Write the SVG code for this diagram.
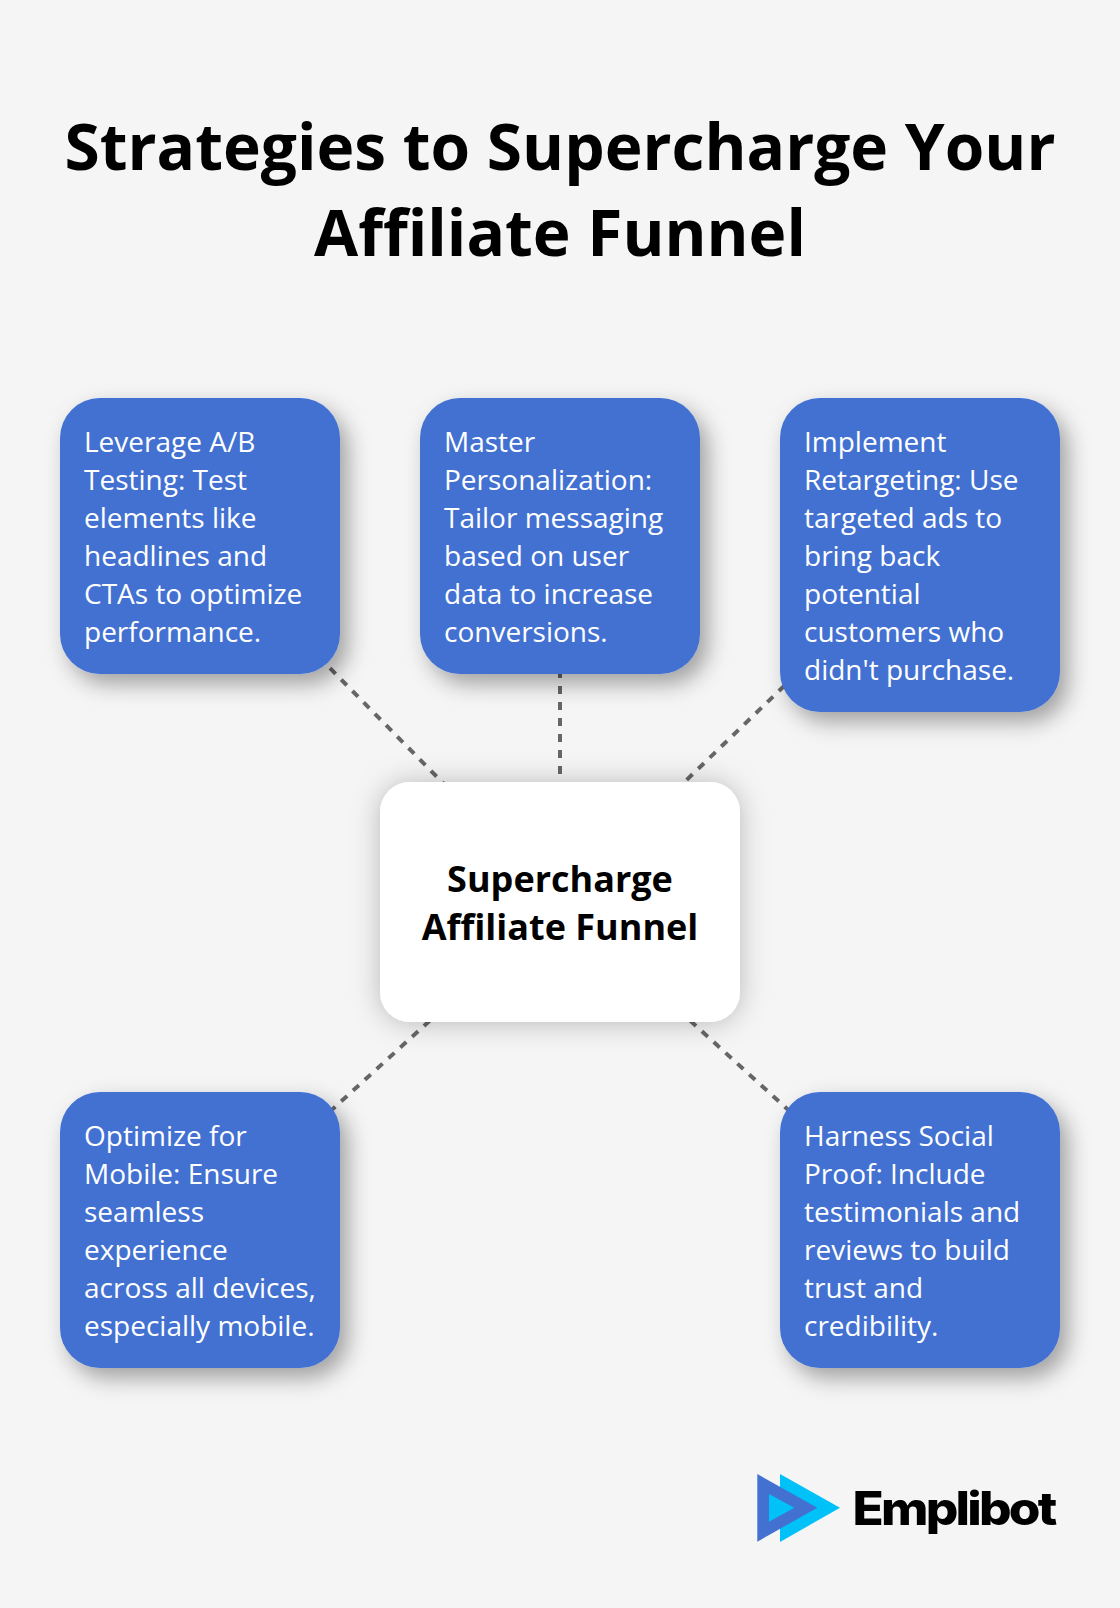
<svg xmlns="http://www.w3.org/2000/svg" width="1120" height="1608" viewBox="0 0 1120 1608">
<style>
text{font-family:"Open Sans","Noto Sans",sans-serif}
.box{fill:#4271d2}
.t{font-size:28px;fill:#fff}
.h{font-size:64px;font-weight:700;fill:#000;text-anchor:middle}
.c{font-size:36px;font-weight:700;fill:#000;text-anchor:middle}
.l{stroke:#666;stroke-width:4;stroke-dasharray:8 8;fill:none}
</style>
<defs>
<filter id="s" x="-30%" y="-30%" width="160%" height="160%"><feDropShadow dx="8" dy="10" stdDeviation="11" flood-color="#000" flood-opacity=".35"/></filter>
<filter id="s2" x="-30%" y="-30%" width="160%" height="160%"><feDropShadow dx="0" dy="1" stdDeviation="14" flood-color="#000" flood-opacity=".25"/></filter>
</defs>
<rect width="1120" height="1608" fill="#f5f5f5"/>
<g id="title"><text class="h" x="560" y="170">Strategies to Supercharge Your</text><text class="h" x="560" y="256">Affiliate Funnel</text></g>
<g id="connectors">
<line class="l" x1="560" y1="902" x2="200" y2="536"/>
<line class="l" x1="560" y1="902" x2="560" y2="536"/>
<line class="l" x1="560" y1="902" x2="920" y2="555"/>
<line class="l" x1="560" y1="902" x2="200" y2="1230"/>
<line class="l" x1="560" y1="902" x2="920" y2="1230"/>
</g>
<g id="center"><rect x="380" y="782" width="360" height="240" rx="30" fill="#fff" filter="url(#s2)"/><text class="c" x="560" y="892">Supercharge</text><text class="c" x="560" y="940">Affiliate Funnel</text></g>
<g id="n1"><rect class="box" x="60" y="398" width="280" height="276" rx="40" filter="url(#s)"/><text class="t"><tspan x="84" y="452">Leverage A/B</tspan><tspan x="84" y="490">Testing: Test</tspan><tspan x="84" y="528">elements like</tspan><tspan x="84" y="566">headlines and</tspan><tspan x="84" y="604">CTAs to optimize</tspan><tspan x="84" y="642">performance.</tspan></text></g>
<g id="n2"><rect class="box" x="420" y="398" width="280" height="276" rx="40" filter="url(#s)"/><text class="t"><tspan x="444" y="452">Master</tspan><tspan x="444" y="490">Personalization:</tspan><tspan x="444" y="528">Tailor messaging</tspan><tspan x="444" y="566">based on user</tspan><tspan x="444" y="604">data to increase</tspan><tspan x="444" y="642">conversions.</tspan></text></g>
<g id="n3"><rect class="box" x="780" y="398" width="280" height="314" rx="40" filter="url(#s)"/><text class="t"><tspan x="804" y="452">Implement</tspan><tspan x="804" y="490">Retargeting: Use</tspan><tspan x="804" y="528">targeted ads to</tspan><tspan x="804" y="566">bring back</tspan><tspan x="804" y="604">potential</tspan><tspan x="804" y="642">customers who</tspan><tspan x="804" y="680">didn't purchase.</tspan></text></g>
<g id="n4"><rect class="box" x="60" y="1092" width="280" height="276" rx="40" filter="url(#s)"/><text class="t"><tspan x="84" y="1146">Optimize for</tspan><tspan x="84" y="1184">Mobile: Ensure</tspan><tspan x="84" y="1222">seamless</tspan><tspan x="84" y="1260">experience</tspan><tspan x="84" y="1298">across all devices,</tspan><tspan x="84" y="1336">especially mobile.</tspan></text></g>
<g id="n5"><rect class="box" x="780" y="1092" width="280" height="276" rx="40" filter="url(#s)"/><text class="t"><tspan x="804" y="1146">Harness Social</tspan><tspan x="804" y="1184">Proof: Include</tspan><tspan x="804" y="1222">testimonials and</tspan><tspan x="804" y="1260">reviews to build</tspan><tspan x="804" y="1298">trust and</tspan><tspan x="804" y="1336">credibility.</tspan></text></g>
<g id="logo">
<polygon points="780,1474 840,1507.700 780,1542" fill="#00c2f8"/>
<polygon points="757.300,1474 817.300,1507.700 757.300,1541.700" fill="#4271d2"/>
<polygon points="769,1494 794.300,1507.700 769,1521.700" fill="#00c2f8"/>
<text x="852.500" y="1525" font-size="46" font-weight="800" letter-spacing="-2.500" textLength="202" lengthAdjust="spacingAndGlyphs" style="font-family:Inter,sans-serif" fill="#000">Emplibot</text>
</g>
</svg>
